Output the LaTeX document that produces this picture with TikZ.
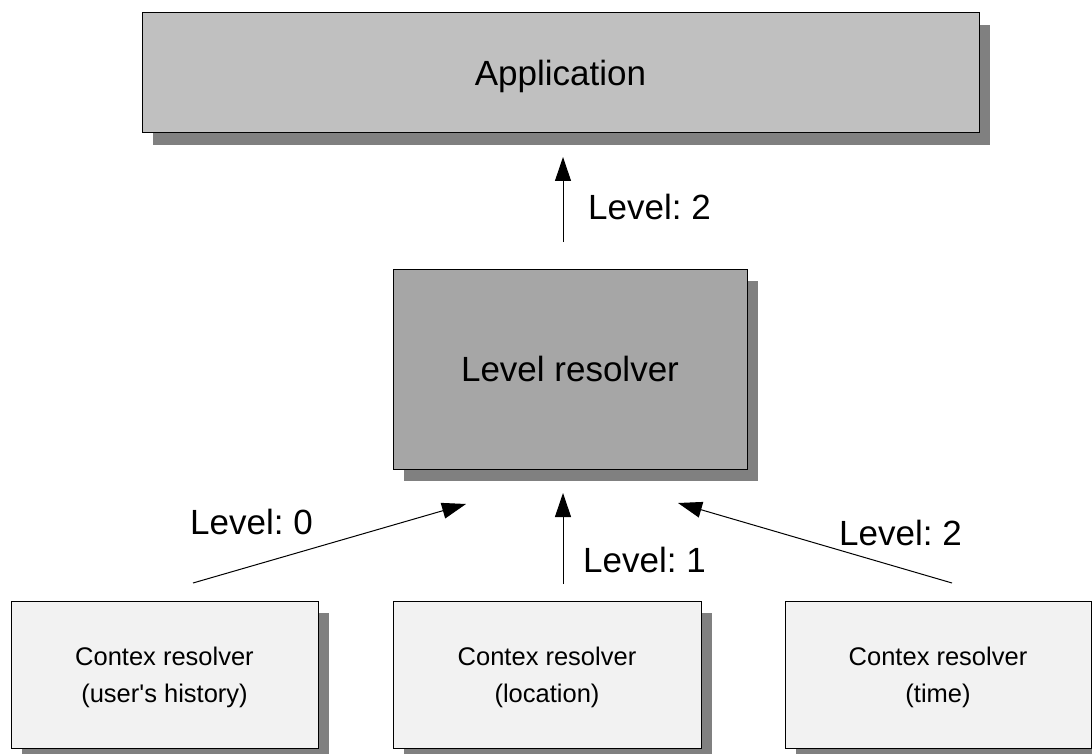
\documentclass[tikz,border=0pt]{standalone}
\usepackage{fontspec}
\setmainfont{Liberation Sans}
\newfontfamily\rawsans{Liberation Sans}
\frenchspacing
\usetikzlibrary{arrows.meta,shadows}
\definecolor{appfill}{HTML}{C0C0C0}
\definecolor{lrfill}{HTML}{A6A6A6}
\definecolor{ctxfill}{HTML}{F2F2F2}
\definecolor{shadowgray}{HTML}{808080}
\begin{document}
\begin{tikzpicture}[x=1pt,y=-1pt,
  box/.style={draw=black,line width=1pt,inner sep=0pt,align=center,
    drop shadow={shadow xshift=11pt,shadow yshift=-12pt,fill=shadowgray,opacity=1}},
  bigtext/.style={font=\fontsize{35}{42}\selectfont},
  smalltext/.style={font=\rawsans\fontsize{25.5}{37}\selectfont},
  conn/.style={line width=1pt,-{Triangle[length=24pt,width=16pt]}},
  lbl/.style={bigtext,inner sep=0pt,anchor=base west}]
\useasboundingbox (0,0) rectangle (1092,754);
% boxes
\node[box,bigtext,fill=appfill,minimum width=837pt,minimum height=120pt,text depth=0pt] (app) at (560.5,73) {Application};
\node[box,bigtext,fill=lrfill,minimum width=354pt,minimum height=200pt] (lr) at (570,369) {Level resolver};
\node[box,smalltext,fill=ctxfill,minimum width=307pt,minimum height=147pt,text depth=0pt] (c1) at (164.5,674.5) {Contex resolver\\(user's history)};
\node[box,smalltext,fill=ctxfill,minimum width=308pt,minimum height=147pt,text depth=0pt] (c2) at (547,674.5) {Contex resolver\\(location)};
\node[box,smalltext,fill=ctxfill,minimum width=306pt,minimum height=147pt,text depth=0pt] (c3) at (938,674.5) {Contex resolver\\(time)};
% connector end points
\coordinate (a0s) at (563,242);
\coordinate (a0e) at (563,157);
\coordinate (a1s) at (193,583);
\coordinate (a1e) at (466,504);
\coordinate (a2s) at (563,584);
\coordinate (a2e) at (563,493);
\coordinate (a3s) at (952,583);
\coordinate (a3e) at (678,503);
\draw[conn] (a0s) -- (a0e);
\draw[conn] (a1s) -- (a1e);
\draw[conn] (a2s) -- (a2e);
\draw[conn] (a3s) -- (a3e);
% labels
\node[lbl] (l0) at (588,219) {Level: 2};
\node[lbl] (l1) at (190,534) {Level: 0};
\node[lbl] (l2) at (583,572) {Level: 1};
\node[lbl] (l3) at (839,545) {Level: 2};
\end{tikzpicture}
\end{document}
